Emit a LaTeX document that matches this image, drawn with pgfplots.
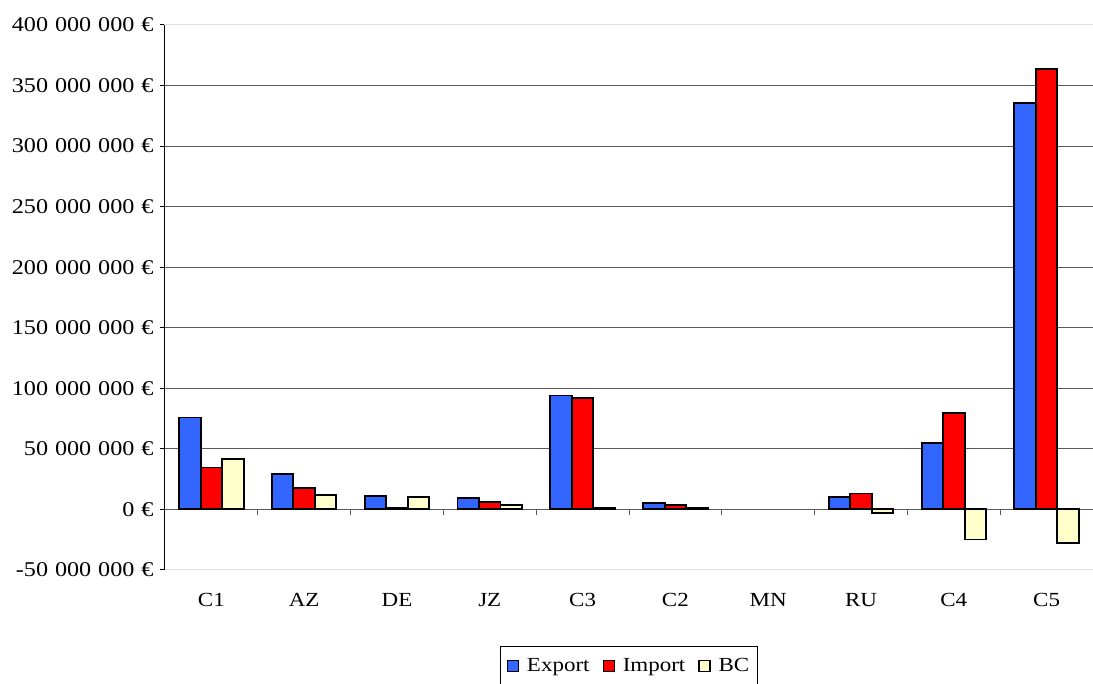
\documentclass[border=0pt]{standalone}
\usepackage{fontspec}
\setmainfont[FakeStretch=1.15]{Liberation Serif}
\usepackage{pgfplots}
\pgfplotsset{compat=1.18}

\definecolor{exportblue}{HTML}{3366FF}
\definecolor{importred}{HTML}{FF0000}
\definecolor{bcyellow}{HTML}{FFFFCC}
\definecolor{gridgray}{HTML}{5A5A5A}
\newcommand{\s}{\hspace{0.33em}}

\begin{document}
\begin{tikzpicture}
\path[use as bounding box] (0,0) rectangle (1093pt,684pt);
\begin{axis}[
    at={(165pt,114pt)}, anchor=south west,
    scale only axis, width=928pt, height=545pt,
    xmin=-0.5, xmax=9.5, ymin=-50, ymax=400,
    clip=false,
    ybar=0pt, bar width=21.5pt,
    xtick={0,...,9},
    xticklabels={C1,AZ,DE,JZ,C3,C2,MN,RU,C4,C5},
    xtick style={draw=none},
    xticklabel style={yshift=-15pt, font=\fontsize{20}{22}\selectfont},
    ytick={-50,0,50,100,150,200,250,300,350,400},
    yticklabels={-50\s000\s000\s€,0\s€,50\s000\s000\s€,100\s000\s000\s€,150\s000\s000\s€,200\s000\s000\s€,250\s000\s000\s€,300\s000\s000\s€,350\s000\s000\s€,400\s000\s000\s€},
    yticklabel style={xshift=-3pt, font=\fontsize{21}{23}\selectfont},
    ytick pos=left, tick align=outside, major tick length=5pt,
    ytick style={black, line width=1pt},
    extra y ticks={50,100,150,200,250,300,350},
    extra y tick labels={},
    extra y tick style={grid=major, tick style={draw=none}},
    grid style={gridgray, line width=1.2pt},
    axis line style={draw=black!12, line width=1pt},
    legend columns=-1,
    legend style={at={(0.5,-0.1394)}, anchor=north, draw=black, line width=1pt,
        font=\fontsize{20}{22}\selectfont, inner xsep=6pt, inner ysep=10pt,
        /tikz/every odd column/.append style={column sep=6pt},
        /tikz/every even column/.append style={column sep=11pt}},
    legend image code/.code={\draw[#1, line width=1.2pt] (0pt,-5.5pt) rectangle (11pt,5.5pt);},
]
\draw[gridgray, line width=1.2pt] (axis cs:-0.5,0) -- (axis cs:9.5,0);
\pgfplotsinvokeforeach{0.5,1.5,...,8.5}{\draw[gridgray, line width=1pt] (axis cs:#1,0) -- ++(0pt,-6pt);}

\addplot[draw=black, line width=1.9pt, fill=exportblue] coordinates {
    (0,75.9) (1,29.6) (2,11.4) (3,9.8) (4,94.1) (5,5.0) (7,9.9) (8,54.5) (9,335.5)};
\addplot[draw=black, line width=1.9pt, fill=importred] coordinates {
    (0,34.6) (1,18.0) (2,1.5) (3,6.2) (4,92.2) (5,3.3) (7,13.2) (8,79.3) (9,363.5)};
\addplot[draw=black, line width=1.9pt, fill=bcyellow] coordinates {
    (0,41.3) (1,11.6) (2,9.9) (3,3.4) (4,1.6) (5,1.6) (7,-3.3) (8,-24.8) (9,-28.0)};
\legend{Export,Import,BC}

\draw[black, line width=1pt] (rel axis cs:0,0) -- (rel axis cs:0,1);
\end{axis}
\end{tikzpicture}
\end{document}
